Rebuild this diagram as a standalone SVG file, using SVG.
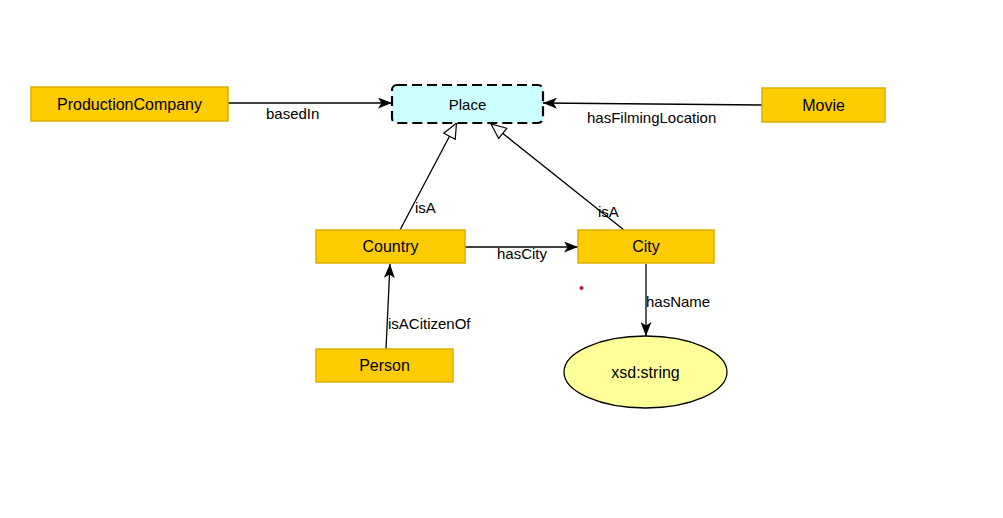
<svg xmlns="http://www.w3.org/2000/svg" width="1003" height="518" viewBox="0 0 1003 518">
<style>
text{font-family:"Liberation Sans",Arial,sans-serif;font-size:15px;fill:#000}
.n text{text-anchor:middle;dominant-baseline:central;font-size:16px}
.cls{fill:#FFCC00;stroke:#D9AE00;stroke-width:1.5}
.e line{stroke:#000;stroke-width:1.3;fill:none}
.a{marker-end:url(#arr)}
.t{marker-end:url(#tri)}
</style>
<defs>
<marker id="arr" viewBox="0 0 14 11" refX="14" refY="5.5" markerWidth="14" markerHeight="11" markerUnits="userSpaceOnUse" orient="auto">
<path d="M0,0 L14,5.5 L0,11 L3.5,5.5 Z" fill="#000"/>
</marker>
<marker id="tri" viewBox="-1 -1 17 15" refX="15" refY="6.5" markerWidth="17" markerHeight="15" markerUnits="userSpaceOnUse" orient="auto">
<path d="M0,0 L15,6.5 L0,13 Z" fill="#fff" stroke="#000" stroke-width="1.2"/>
</marker>
</defs>
<rect width="1003" height="518" fill="#fff"/>
<g class="e" id="edges">
<line class="a" x1="228" y1="103" x2="392" y2="103"/>
<text x="266" y="119">basedIn</text>
<line class="a" x1="762" y1="105" x2="543" y2="103"/>
<text x="587" y="123">hasFilmingLocation</text>
<line class="t" x1="400" y1="230" x2="456.5" y2="123"/>
<text x="415" y="213">isA</text>
<line class="t" x1="624" y1="230" x2="491" y2="124"/>
<text x="598" y="217">isA</text>
<line class="a" x1="465" y1="247" x2="578" y2="247"/>
<text x="497" y="259">hasCity</text>
<line class="a" x1="386" y1="349" x2="390" y2="264"/>
<text x="388" y="329">isACitizenOf</text>
<line class="a" x1="646" y1="264" x2="646" y2="336"/>
<text x="646" y="307">hasName</text>
</g>
<g class="n" id="ProductionCompany"><rect class="cls" x="31" y="87" width="197" height="34"/><text x="129.5" y="104">ProductionCompany</text></g>
<g class="n" id="Place"><rect x="392" y="85" width="151" height="38" rx="5" fill="#CCFFFF" stroke="#000" stroke-width="2.2" stroke-dasharray="10,5"/><text x="467.5" y="104.5" style="font-size:15px">Place</text></g>
<g class="n" id="Movie"><rect class="cls" x="762" y="88" width="123" height="34"/><text x="823.5" y="105">Movie</text></g>
<g class="n" id="Country"><rect class="cls" x="316" y="230" width="149" height="33"/><text x="390.5" y="246.5">Country</text></g>
<g class="n" id="City"><rect class="cls" x="578" y="230" width="136" height="33"/><text x="646" y="246.5">City</text></g>
<g class="n" id="Person"><rect class="cls" x="316" y="349" width="137" height="33"/><text x="384.5" y="365.5">Person</text></g>
<g class="n" id="xsdstring"><ellipse cx="645.5" cy="372" rx="81.5" ry="36" fill="#FFFF99" stroke="#000" stroke-width="1.3"/><text x="645.5" y="372">xsd:string</text></g>
<g id="dot"><circle cx="581.5" cy="288" r="2" fill="#B0185A"/></g>
</svg>
